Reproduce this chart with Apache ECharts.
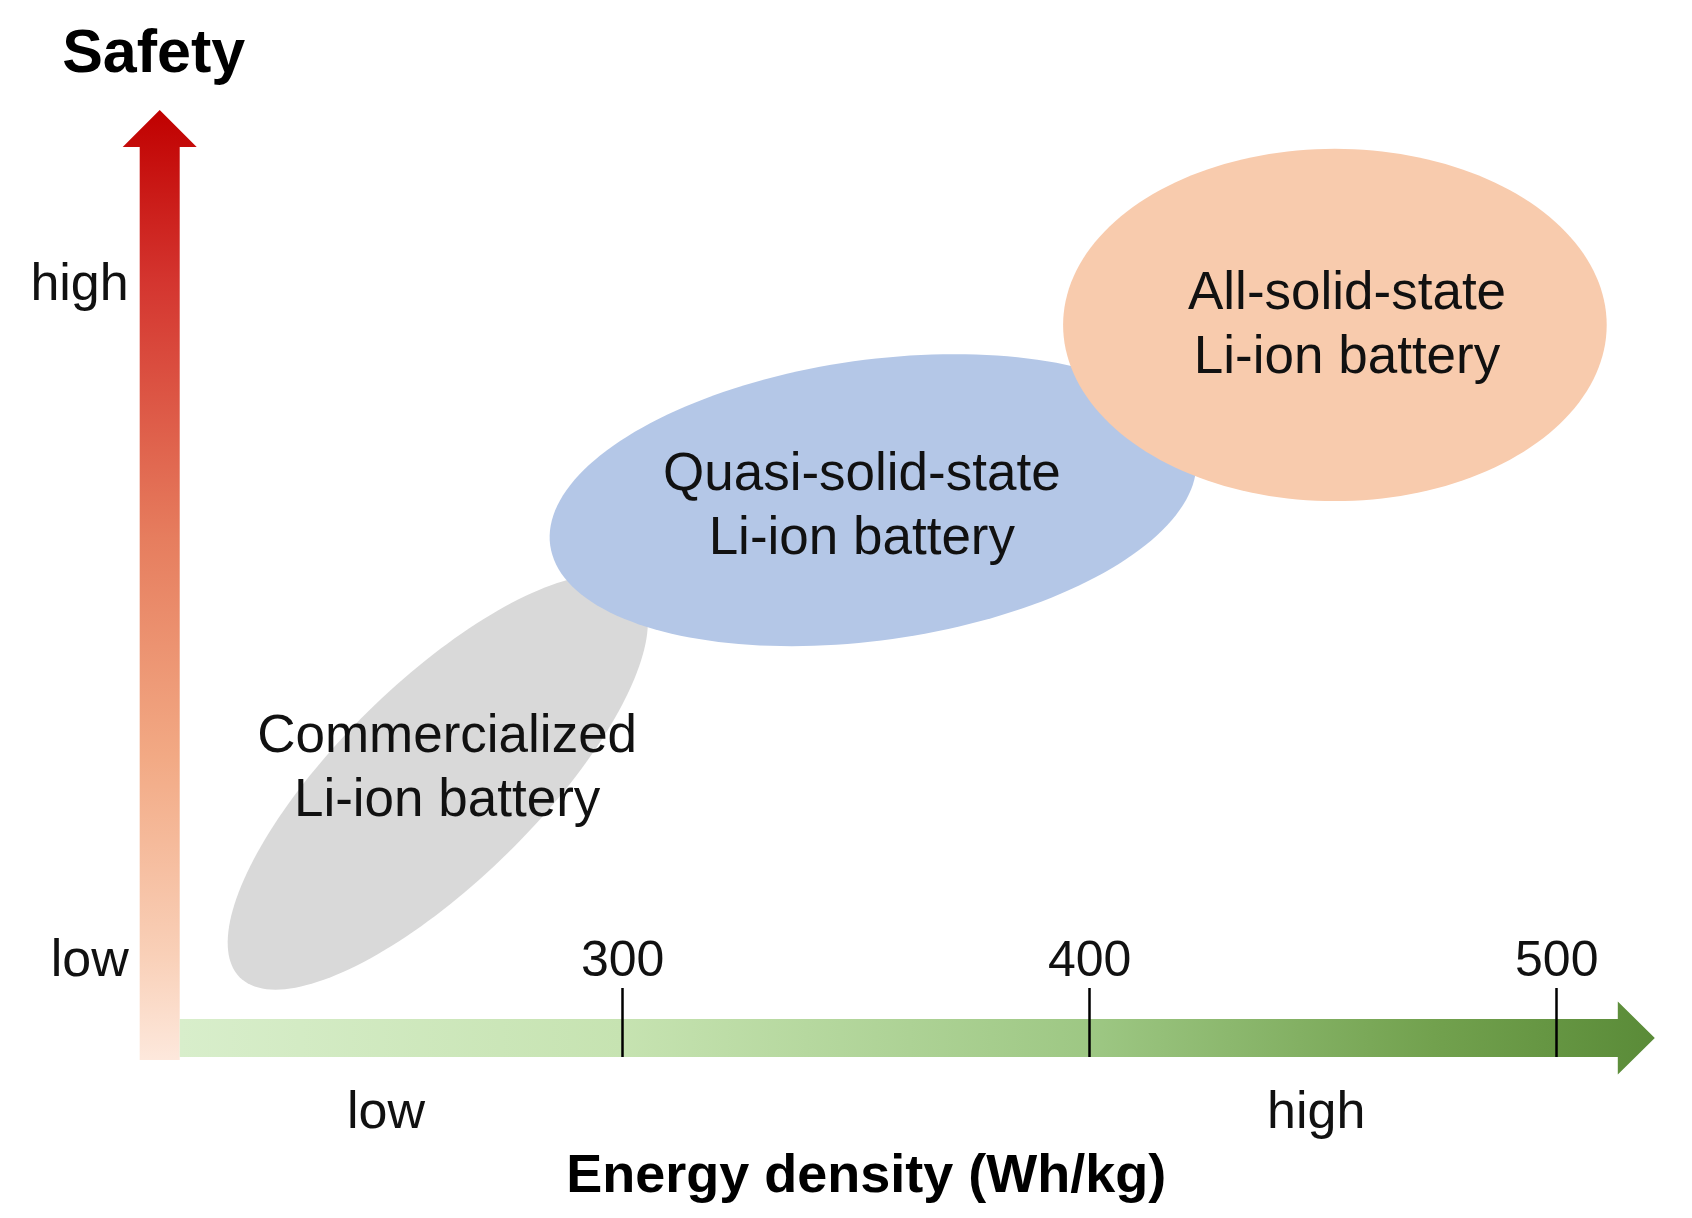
<!DOCTYPE html>
<html>
<head>
<meta charset="utf-8">
<script src="https://cdn.jsdelivr.net/npm/echarts@6/dist/echarts.min.js"></script>
<style>
html,body{margin:0;padding:0;background:#ffffff;}
#chart{width:1692px;height:1218px;}
</style>
</head>
<body>
<div id="chart"></div>
<script>
// ---------------- data ----------------
const technologies = [
  'Commercialized\nLi-ion battery',
  'Quasi-solid-state\nLi-ion battery',
  'All-solid-state\nLi-ion battery'
];
// ellipse centres (energy density in Wh/kg, safety on a 0-100 scale)
const energyCenter = [260.4, 353.6, 452.5];
const safetyCenter = [29.0, 58.8, 77.3];
// ellipse semi-axes (energy units along the main axis, safety units along the minor axis)
const energySpread = [59.5, 69.8, 58.2];
const safetySpread = [10.5, 14.8, 18.6];
const tiltDeg = [44.5, 8, 0];
// label anchor points
const labelEnergy = [262.4, 351.2, 455.1];
const labelSafety = [30.4, 58.0, 77.1];
// axes
const energyRange = [200, 521];
const safetyRange = [0, 100];
const energyTicks = [300, 400, 500];
const energyLevelValues = [249.3, 448.5];
const energyLevelNames = ['low', 'high'];
const safetyLevelValues = [10.1, 81.45];
const safetyLevelNames = ['low', 'high'];

// ---------------- styles ----------------
const FONT = '"Liberation Sans", Arial, Helvetica, sans-serif';
const ellipseColors = ['#d9d9d9', '#b4c7e7', '#f8cbad'];
const TEXT = '#111111';

function nearestName(values, names, v) {
  let best = 0, d = Infinity;
  values.forEach((x, i) => { const dd = Math.abs(x - v); if (dd < d) { d = dd; best = i; } });
  return names[best];
}

const chart = echarts.init(document.getElementById('chart'), null, {renderer: 'canvas'});

const option = {
  animation: false,
  backgroundColor: '#ffffff',
  grid: {left: 155.7, top: 110, right: 37.2, bottom: 161, containLabel: false, outerBoundsMode: 'none'},
  xAxis: [
    {
      type: 'value', min: energyRange[0], max: energyRange[1], position: 'bottom', z: 10,
      axisLine: {show: false, onZero: false},
      splitLine: {show: false},
      axisTick: {show: true, inside: true, length: 69, customValues: energyTicks,
        lineStyle: {color: '#000', width: 2.5}},
      axisLabel: {show: true, inside: true, margin: 70, customValues: energyTicks,
        fontSize: 50, fontFamily: FONT, color: TEXT}
    },
    {
      type: 'value', min: energyRange[0], max: energyRange[1], position: 'bottom', z: 10,
      axisLine: {show: false, onZero: false},
      splitLine: {show: false},
      axisTick: {show: false},
      axisLabel: {show: true, margin: 31, customValues: energyLevelValues,
        formatter: v => nearestName(energyLevelValues, energyLevelNames, v),
        fontSize: 52, fontFamily: FONT, color: TEXT},
      name: 'Energy density (Wh/kg)', nameLocation: 'middle', nameGap: 93,
      nameTextStyle: {fontSize: 54, fontWeight: 'bold', fontFamily: FONT, color: '#000', padding: [0, 78, 0, 0]}
    }
  ],
  yAxis: {
    type: 'value', min: safetyRange[0], max: safetyRange[1], z: 10,
    axisLine: {show: false, onZero: false},
    splitLine: {show: false},
    axisTick: {show: false},
    axisLabel: {show: true, margin: 27, customValues: safetyLevelValues,
      formatter: v => nearestName(safetyLevelValues, safetyLevelNames, v),
      fontSize: 52, fontFamily: FONT, color: TEXT},
    name: 'Safety', nameLocation: 'end', nameGap: 24,
    nameTextStyle: {fontSize: 61, fontWeight: 'bold', fontFamily: FONT, color: '#000', padding: [0, 4, 0, 0]}
  },
  series: [
    {
      // axis arrows
      type: 'custom', z: 2, silent: true,
      data: [[energyRange[0], safetyRange[0], 0], [energyRange[1], safetyRange[0], 1]],
      renderItem: function (params, api) {
        const kind = api.value(2);
        const origin = api.coord([energyRange[0], safetyRange[0]]);
        if (kind === 0) {
          const top = api.coord([energyRange[0], safetyRange[1]]);
          const cx = origin[0] + 4, bottom = origin[1] + 3, tipY = top[1];
          const bw = 20, hw = 37, hl = 37;
          return {
            type: 'polygon',
            shape: {points: [[cx - bw, bottom], [cx - bw, tipY + hl], [cx - hw, tipY + hl], [cx, tipY],
              [cx + hw, tipY + hl], [cx + bw, tipY + hl], [cx + bw, bottom]]},
            style: {fill: new echarts.graphic.LinearGradient(0, 0, 0, 1, [
              {offset: 0, color: '#c00000'}, {offset: 0.18, color: '#d4352f'},
              {offset: 0.45, color: '#e67d5e'}, {offset: 0.68, color: '#f2a984'},
              {offset: 0.89, color: '#f9d0b8'}, {offset: 1, color: '#fde8dc'}])}
          };
        } else {
          const end = api.coord([energyRange[1], safetyRange[0]]);
          const x0 = origin[0] + 24, tipX = end[0];
          const cy = origin[1] - 19, bh = 19, hh = 36.5, hl = 37;
          return {
            type: 'polygon',
            shape: {points: [[x0, cy - bh], [tipX - hl, cy - bh], [tipX - hl, cy - hh], [tipX, cy],
              [tipX - hl, cy + hh], [tipX - hl, cy + bh], [x0, cy + bh]]},
            style: {fill: new echarts.graphic.LinearGradient(0, 0, 1, 0, [
              {offset: 0, color: '#d8eecb'}, {offset: 0.3, color: '#c6e3b1'},
              {offset: 0.62, color: '#9dc783'}, {offset: 0.85, color: '#72a14e'},
              {offset: 1, color: '#5a8b38'}])}
          };
        }
      }
    },
    {
      // technology regions
      type: 'custom', z: 3, silent: true,
      data: technologies.map((t, i) => [energyCenter[i], safetyCenter[i], energySpread[i], safetySpread[i], tiltDeg[i], i]),
      renderItem: function (params, api) {
        const c = api.coord([api.value(0), api.value(1)]);
        const s = api.size([api.value(2), api.value(3)]);
        const rot = api.value(4) * Math.PI / 180;
        const idx = api.value(5);
        const pts = [];
        const N = 180;
        for (let k = 0; k < N; k++) {
          const t = k / N * Math.PI * 2;
          const u = s[0] * Math.cos(t), v = s[1] * Math.sin(t);
          pts.push([c[0] + u * Math.cos(rot) - v * Math.sin(rot), c[1] - (u * Math.sin(rot) + v * Math.cos(rot))]);
        }
        return {type: 'polygon', shape: {points: pts}, style: {fill: ellipseColors[idx]}};
      }
    },
    {
      // region labels
      type: 'custom', z: 4, silent: true,
      data: technologies.map((t, i) => [labelEnergy[i], labelSafety[i], i]),
      renderItem: function (params, api) {
        const p = api.coord([api.value(0), api.value(1)]);
        const idx = api.value(2);
        return {
          type: 'text', x: p[0], y: p[1],
          style: {text: technologies[idx], fill: TEXT, fontSize: 53, fontFamily: FONT,
            align: 'center', verticalAlign: 'middle', lineHeight: 64}
        };
      }
    }
  ]
};
chart.setOption(option);
</script>
</body>
</html>
